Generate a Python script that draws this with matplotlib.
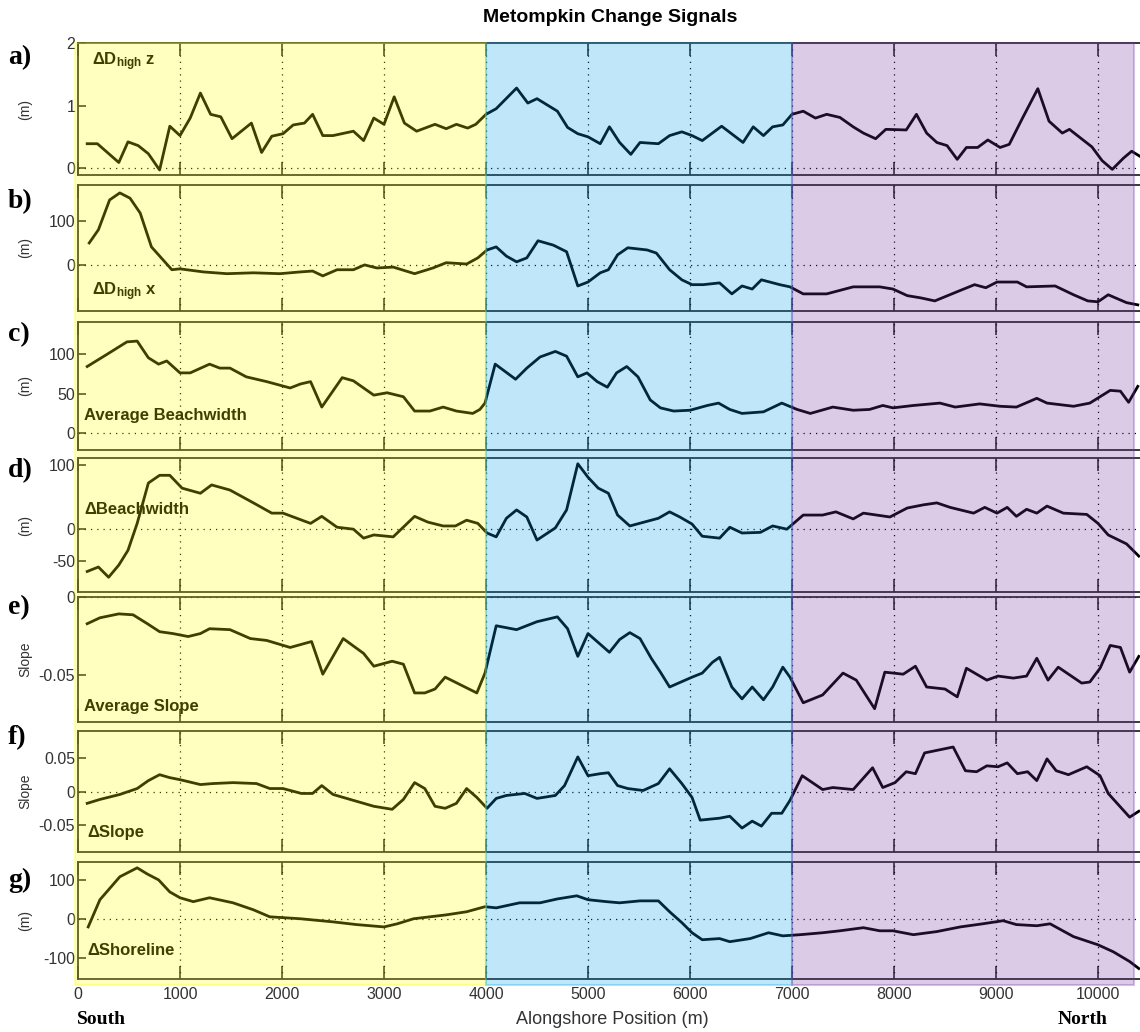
#!/usr/bin/env python3
"""
Metompkin change signals: seven stacked alongshore profiles with
shaded coastal sections laid over the top.
"""

import matplotlib.pyplot as plt
from matplotlib.ticker import NullFormatter

# ---- data (alongshore position in m) ----
a_x = [90, 190, 400, 490, 590, 690, 800, 900, 1000, 1100,
       1200, 1300, 1400, 1510, 1700, 1800, 1900, 2010, 2110, 2220,
       2300, 2400, 2500, 2700, 2800, 2900, 3000, 3100, 3200, 3320,
       3500, 3610, 3710, 3820, 3900, 4000, 4100, 4300, 4410, 4500,
       4700, 4800, 4900, 5000, 5120, 5210, 5310, 5420, 5510, 5690,
       5800, 5920, 6020, 6120, 6310, 6520, 6620, 6720, 6810, 6910,
       7000, 7110, 7230, 7340, 7470, 7600, 7700, 7820, 7920, 8120,
       8220, 8320, 8420, 8520, 8620, 8710, 8820, 8920, 9040, 9130,
       9260, 9410, 9520, 9650, 9720, 9940, 10040, 10140, 10250, 10330, 10410]
a_y = [0.39, 0.39, 0.09, 0.42, 0.36, 0.23, -0.03, 0.67, 0.52, 0.80,
       1.20, 0.86, 0.82, 0.47, 0.72, 0.25, 0.51, 0.55, 0.69, 0.72,
       0.86, 0.52, 0.52, 0.59, 0.44, 0.80, 0.70, 1.14, 0.72, 0.59,
       0.70, 0.63, 0.70, 0.64, 0.70, 0.86, 0.95, 1.28, 1.04, 1.11,
       0.91, 0.65, 0.55, 0.50, 0.39, 0.66, 0.41, 0.22, 0.41, 0.39,
       0.52, 0.58, 0.52, 0.44, 0.67, 0.41, 0.66, 0.52, 0.66, 0.69,
       0.86, 0.91, 0.80, 0.86, 0.81, 0.66, 0.56, 0.47, 0.62, 0.61,
       0.86, 0.56, 0.41, 0.36, 0.14, 0.33, 0.33, 0.45, 0.33, 0.38,
       0.80, 1.27, 0.75, 0.56, 0.62, 0.34, 0.12, -0.02, 0.16, 0.27, 0.19]

b_x = [110, 200, 310, 410, 510, 610, 720, 920, 1000, 1230,
       1460, 1720, 1980, 2180, 2300, 2400, 2540, 2700, 2810, 2930,
       3090, 3300, 3480, 3610, 3810, 3920, 4010, 4100, 4200, 4300,
       4400, 4510, 4660, 4790, 4900, 5000, 5120, 5200, 5290, 5390,
       5580, 5670, 5800, 5920, 6020, 6130, 6290, 6410, 6510, 6610,
       6700, 6880, 6980, 7110, 7340, 7600, 7860, 7990, 8130, 8260,
       8400, 8620, 8790, 8900, 9010, 9210, 9300, 9580, 9760, 9900,
       10000, 10100, 10280, 10390]
b_y = [50, 80, 148, 164, 152, 118, 41, -11, -9, -16,
       -20, -18, -20, -16, -14, -25, -11, -11, 0, -7,
       -5, -20, -7, 5, 2, 16, 34, 41, 20, 7,
       16, 55, 45, 30, -48, -39, -18, -11, 23, 39,
       34, 27, -11, -34, -45, -45, -41, -66, -48, -55,
       -34, -45, -50, -66, -66, -50, -50, -55, -70, -75,
       -82, -61, -45, -52, -39, -39, -50, -48, -68, -82,
       -84, -68, -86, -91]

c_x = [90, 280, 480, 580, 690, 790, 870, 1000, 1100, 1290,
       1390, 1490, 1650, 1850, 2080, 2180, 2280, 2390, 2590, 2700,
       2900, 3030, 3190, 3300, 3450, 3580, 3710, 3870, 3940, 3990,
       4090, 4290, 4400, 4530, 4680, 4790, 4900, 4990, 5090, 5190,
       5280, 5380, 5490, 5610, 5710, 5840, 6000, 6170, 6280, 6390,
       6510, 6720, 6900, 7050, 7180, 7400, 7600, 7760, 7890, 7990,
       8190, 8450, 8600, 8840, 9040, 9200, 9400, 9500, 9760, 9920,
       10120, 10220, 10300, 10390]
c_y = [84, 99, 115, 116, 95, 87, 91, 76, 76, 87,
       82, 82, 71, 65, 57, 62, 65, 33, 70, 66,
       48, 51, 46, 28, 28, 33, 28, 25, 30, 38,
       87, 68, 82, 96, 103, 97, 71, 76, 65, 58,
       76, 84, 71, 42, 32, 28, 29, 35, 38, 30,
       25, 27, 38, 30, 25, 33, 29, 30, 35, 32,
       35, 38, 33, 37, 34, 33, 44, 38, 34, 38,
       54, 53, 39, 59]

d_x = [90, 200, 300, 400, 490, 580, 690, 800, 900, 1020,
       1200, 1310, 1490, 1720, 1900, 2010, 2280, 2390, 2540, 2700,
       2800, 2900, 3090, 3300, 3430, 3580, 3700, 3810, 3920, 4010,
       4100, 4200, 4300, 4400, 4500, 4680, 4790, 4900, 5000, 5100,
       5200, 5290, 5410, 5690, 5800, 5900, 6020, 6120, 6290, 6390,
       6510, 6690, 6810, 6950, 7110, 7300, 7430, 7600, 7700, 7960,
       8130, 8290, 8420, 8550, 8780, 8890, 9010, 9110, 9200, 9300,
       9400, 9500, 9660, 9890, 10000, 10100, 10280, 10400]
d_y = [-66, -59, -75, -56, -33, 9, 72, 84, 84, 64,
       56, 69, 61, 41, 25, 25, 9, 20, 3, 0,
       -14, -9, -12, 20, 11, 5, 5, 14, 9, -6,
       -12, 17, 30, 19, -17, 2, 30, 102, 81, 64,
       56, 22, 5, 17, 27, 19, 8, -11, -14, 3,
       -6, -5, 5, 0, 22, 22, 27, 16, 25, 19,
       33, 38, 41, 34, 25, 34, 25, 34, 20, 31,
       25, 36, 25, 23, 9, -9, -23, -42]

e_x = [90, 215, 400, 540, 680, 800, 930, 1080, 1200, 1290,
       1490, 1690, 1850, 2080, 2290, 2400, 2600, 2800, 2900, 3080,
       3190, 3300, 3400, 3500, 3600, 3910, 3990, 4100, 4300, 4500,
       4700, 4800, 4900, 5000, 5100, 5210, 5310, 5410, 5510, 5620,
       5710, 5800, 6020, 6120, 6220, 6290, 6410, 6510, 6610, 6720,
       6810, 6910, 6980, 7110, 7300, 7500, 7630, 7810, 7910, 8090,
       8210, 8320, 8500, 8620, 8710, 8910, 9020, 9170, 9300, 9400,
       9510, 9610, 9840, 9920, 10020, 10120, 10220, 10310, 10400]
e_y = [-0.0171, -0.0133, -0.0108, -0.0114, -0.0171, -0.0222, -0.0234, -0.0253, -0.0234, -0.0203,
       -0.0209, -0.0266, -0.0278, -0.0323, -0.0285, -0.0494, -0.0266, -0.0361, -0.0443, -0.0411,
       -0.0430, -0.0614, -0.0614, -0.0589, -0.0513, -0.0614, -0.0487, -0.0184, -0.0209, -0.0158,
       -0.0127, -0.0203, -0.0380, -0.0234, -0.0291, -0.0354, -0.0272, -0.0228, -0.0266, -0.0392,
       -0.0481, -0.0576, -0.0513, -0.0487, -0.0418, -0.0386, -0.0576, -0.0652, -0.0576, -0.0658,
       -0.0576, -0.0449, -0.0513, -0.0677, -0.0627, -0.0487, -0.0532, -0.0715, -0.0481, -0.0494,
       -0.0443, -0.0576, -0.0589, -0.0639, -0.0456, -0.0532, -0.0506, -0.0519, -0.0506, -0.0392,
       -0.0532, -0.0449, -0.0551, -0.0544, -0.0456, -0.0310, -0.0323, -0.0481, -0.0380]

f_x = [90, 215, 410, 580, 690, 800, 900, 1000, 1200, 1320,
       1520, 1750, 1880, 2010, 2190, 2300, 2390, 2500, 2700, 2900,
       3080, 3190, 3300, 3400, 3500, 3600, 3710, 3810, 3910, 4010,
       4100, 4200, 4380, 4500, 4680, 4770, 4900, 5000, 5120, 5200,
       5290, 5390, 5540, 5690, 5800, 5920, 6020, 6100, 6290, 6390,
       6510, 6610, 6700, 6800, 6900, 6980, 7100, 7300, 7400, 7600,
       7790, 7890, 8010, 8120, 8210, 8300, 8580, 8700, 8810, 8910,
       9020, 9110, 9210, 9310, 9400, 9500, 9590, 9710, 9890, 10020,
       10100, 10310, 10400]
f_y = [-0.0176, -0.0118, -0.0044, 0.0044, 0.0162, 0.0250, 0.0206, 0.0176, 0.0103, 0.0118,
       0.0132, 0.0118, 0.0044, 0.0044, -0.0029, -0.0029, 0.0088, -0.0044, -0.0132, -0.0220,
       -0.0265, -0.0118, 0.0132, 0.0044, -0.0220, -0.0250, -0.0176, 0.0044, -0.0088, -0.0250,
       -0.0103, -0.0059, -0.0029, -0.0103, -0.0059, 0.0088, 0.0515, 0.0235, 0.0265, 0.0279,
       0.0088, 0.0044, 0.0015, 0.0118, 0.0338, 0.0118, -0.0088, -0.0426, -0.0397, -0.0368,
       -0.0544, -0.0441, -0.0515, -0.0324, -0.0324, -0.0132, 0.0235, 0.0029, 0.0059, 0.0029,
       0.0353, 0.0059, 0.0132, 0.0294, 0.0265, 0.0574, 0.0662, 0.0309, 0.0294, 0.0382,
       0.0368, 0.0426, 0.0265, 0.0294, 0.0162, 0.0485, 0.0309, 0.0250, 0.0368, 0.0235,
       -0.0029, -0.0382, -0.0294]

g_x = [100, 215, 410, 580, 680, 790, 900, 1000, 1130, 1290,
       1520, 1720, 1880, 2180, 2500, 2730, 3000, 3130, 3290, 3450,
       3610, 3810, 3990, 4100, 4330, 4530, 4700, 4890, 5000, 5180,
       5310, 5510, 5690, 5800, 5920, 6020, 6120, 6290, 6390, 6590,
       6770, 6910, 7080, 7300, 7470, 7700, 7860, 7990, 8190, 8420,
       8650, 8870, 9070, 9200, 9400, 9530, 9760, 10000, 10150, 10310,
       10400]
g_y = [-21, 49, 108, 131, 115, 100, 69, 54, 44, 54,
       41, 23, 5, 0, -8, -15, -21, -13, 0, 5,
       10, 18, 31, 28, 41, 41, 51, 59, 49, 44,
       41, 46, 46, 18, -10, -36, -54, -51, -59, -51,
       -36, -44, -41, -36, -31, -23, -31, -31, -41, -33,
       -21, -13, -5, -15, -18, -13, -46, -67, -85, -110,
       -128]

series_x = [a_x, b_x, c_x, d_x, e_x, f_x, g_x]
series_y = [a_y, b_y, c_y, d_y, e_y, f_y, g_y]
panel_letters = ["a)", "b)", "c)", "d)", "e)", "f)", "g)"]
panel_names = ["ΔD$_{\\rm high}$ z", "ΔD$_{\\rm high}$ x", "Average Beachwidth",
               "ΔBeachwidth", "Average Slope", "ΔSlope", "ΔShoreline"]
y_units = ["(m)", "(m)", "(m)", "(m)", "Slope", "Slope", "(m)"]
y_limits = [(-0.11, 2.0), (-105, 182), (-21, 140), (-98, 111),
            (-0.08, 0.0), (-0.09, 0.09), (-155, 146)]
y_ticks = [[0, 1, 2], [0, 100], [0, 50, 100], [-50, 0, 100],
           [-0.05, 0], [-0.05, 0, 0.05], [-100, 0, 100]]
y_ticklabels = [["0", "1", "2"], ["0", "100"], ["0", "50", "100"],
                ["-50", "0", "100"], ["-0.05", "0"], ["-0.05", "0", "0.05"],
                ["-100", "0", "100"]]
x_ticks = [0, 1000, 2000, 3000, 4000, 5000, 6000, 7000, 8000, 9000, 10000]

# coastal sections (start, end) and their overlay colours
section_edges = [(-25, 4000), (4000, 7000), (7000, 10350)]
section_colors = [(1.0, 1.0, 0.0), (0.0, 0.64, 0.92), (0.45, 0.20, 0.64)]


def main() -> None:
    plt.rcParams["font.family"] = ["Liberation Sans", "DejaVu Sans"]
    plt.rcParams["mathtext.fontset"] = "custom"
    plt.rcParams["mathtext.rm"] = "Liberation Sans:bold"
    plt.rcParams["mathtext.bf"] = "Liberation Sans:bold"
    plt.rcParams["mathtext.it"] = "Liberation Sans:bold"

    W, H = 1140, 1032
    fig = plt.figure(figsize=(W / 100, H / 100), dpi=100)

    left_px, right_px = 78, 1149
    panel_px = [(43, 175), (185, 311), (322, 450), (458, 592),
                (597, 722), (731, 852), (862, 979)]
    name_pos = [(0.013, 0.856), (0.013, 0.15), (0.006, 0.273), (0.006, 0.612),
                (0.006, 0.128), (0.009, 0.165), (0.009, 0.24)]
    letter_y = [58, 202, 335, 471, 608, 738, 880]
    xlim = (0, 10500)
    axis_color = "#2a2a2a"
    dot = (0, (1, 4))

    for i in range(7):
        top, bot = panel_px[i]
        ax = fig.add_axes([left_px / W, 1 - bot / H,
                           (right_px - left_px) / W, (bot - top) / H])
        ax.set_facecolor("none")
        ax.plot(series_x[i], series_y[i], color="black", lw=2.0,
                solid_joinstyle="round", zorder=3)
        ax.axhline(0, color="black", lw=0.9, ls=dot, zorder=2)
        for xv in x_ticks[1:]:
            ax.axvline(xv, color="black", lw=0.9, ls=dot, zorder=2)

        ax.set_xlim(*xlim)
        ax.set_ylim(*y_limits[i])
        ax.set_xticks(x_ticks)
        ax.set_yticks(y_ticks[i])
        ax.set_yticklabels(y_ticklabels[i])
        ax.tick_params(axis="both", direction="in", colors=axis_color,
                       labelcolor="#333333", labelsize=11.5, width=1.2)
        ax.tick_params(axis="x", length=9.5, top=True, pad=6)
        ax.tick_params(axis="y", length=6, right=True, pad=2)
        if i < 6:
            ax.xaxis.set_major_formatter(NullFormatter())
        for sp in ax.spines.values():
            sp.set_color(axis_color)
            sp.set_linewidth(1.3)

        ax.set_ylabel(y_units[i], fontsize=10, color="#333333")
        ax.yaxis.set_label_coords(-0.043, 0.5)

        ax.text(name_pos[i][0], name_pos[i][1], panel_names[i],
                transform=ax.transAxes, ha="left", va="center",
                fontsize=12, weight="bold", color="black", zorder=4)

        fig.text(8 / W, 1 - letter_y[i] / H, panel_letters[i],
                 family="Liberation Serif", weight="bold", fontsize=20,
                 ha="left", va="center")

    # translucent section overlay drawn on top of all panels
    ov = fig.add_axes([left_px / W, 1 - 985 / H,
                       (right_px - left_px) / W, (985 - 43) / H])
    ov.set_xlim(*xlim)
    ov.set_ylim(0, 1)
    ov.set_zorder(10)
    ov.axis("off")
    for (x0, x1), c in zip(section_edges, section_colors):
        ov.axvspan(x0, x1, facecolor=(*c, 0.25), edgecolor=(*c, 0.3),
                   lw=1.5, clip_on=False)

    fig.text(0.535, 1 - 18 / H, "Metompkin Change Signals",
             fontsize=14, weight="bold", ha="center", va="center")
    fig.text(612 / W, 1 - 1019 / H, "Alongshore Position (m)",
             fontsize=13, color="#333333", ha="center", va="center")
    fig.text(77 / W, 1 - 1020 / H, "South", family="Liberation Serif",
             weight="bold", fontsize=14, ha="left", va="center")
    fig.text(1058 / W, 1 - 1020 / H, "North", family="Liberation Serif",
             weight="bold", fontsize=14, ha="left", va="center")

    fig.savefig("out.png", dpi=100)


if __name__ == "__main__":
    main()
